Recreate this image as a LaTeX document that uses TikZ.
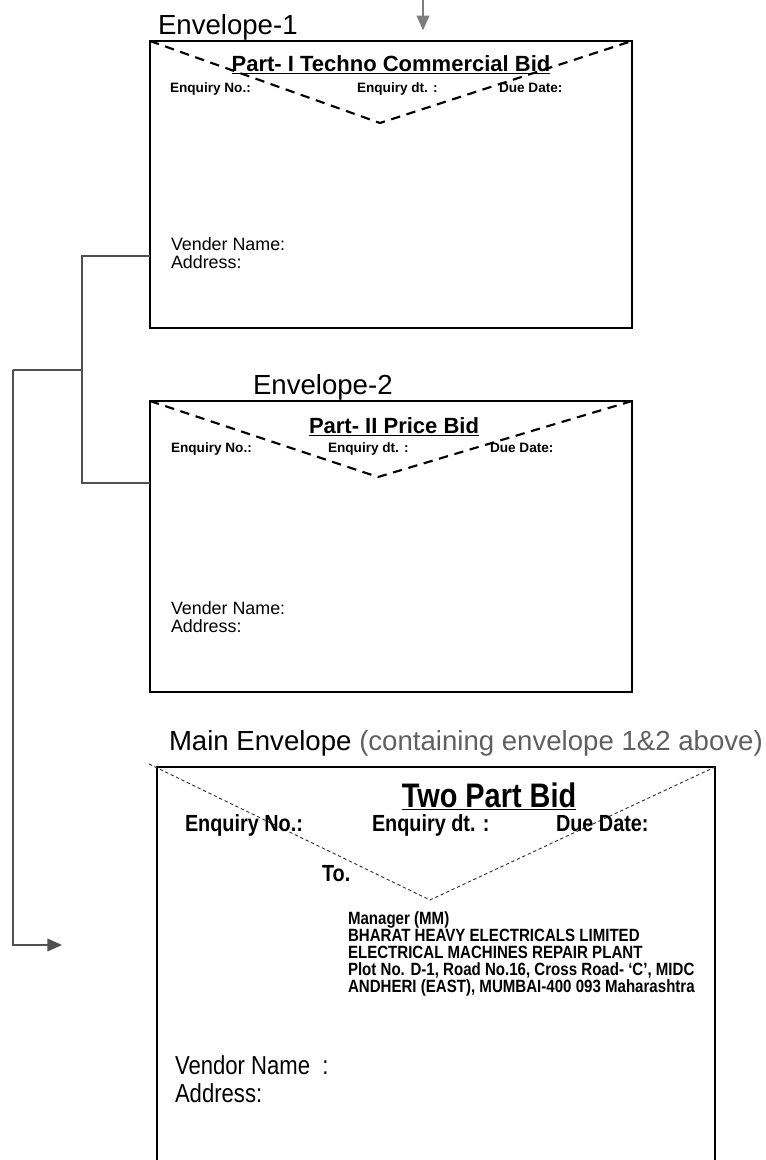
\documentclass[tikz,border=0pt]{standalone}
\usepackage{fontspec}
\setmainfont{Liberation Sans}
\newfontfamily\narrowfont[FakeStretch=0.85]{Liberation Sans}
\usetikzlibrary{positioning}
\usetikzlibrary{arrows.meta}
\definecolor{arrowgray}{RGB}{125,125,125}
\definecolor{wiregray}{RGB}{80,80,80}
\definecolor{notegray}{RGB}{95,95,95}
\tikzset{
    Envelope/.style = {rectangle, draw=black, line width=1.5pt, inner sep=0pt}
}
\tikzset{
    Flap/.style = {draw=black, line width=1.6pt, dash pattern=on 7pt off 5pt}
}
\tikzset{
    Wire/.style = {draw=wiregray, line width=1pt}
}
\tikzset{
    Arrow/.style = {draw=arrowgray, line width=1.2pt, -{Triangle[length=11pt,width=9.5pt]}}
}

\begin{document}
\begin{tikzpicture}[
    x=0.75pt, y=-0.75pt,
    every node/.style={inner sep=0pt, outer sep=0pt}
]
\tikzset{
    EnvLabel/.style = {anchor=base west, font=\fontsize{20.7}{24}\selectfont},
    PartTitle/.style = {anchor=base, font=\fontsize{16.5}{20}\selectfont\bfseries},
    Field/.style = {anchor=base west, font=\fontsize{10.2}{12}\selectfont\bfseries},
    Vender/.style = {anchor=base west, align=left, font=\fontsize{13.4}{13.5}\selectfont},
    MainTitle/.style = {anchor=base, font=\fontsize{25.5}{30}\selectfont\narrowfont\bfseries},
    MainField/.style = {anchor=base west, font=\fontsize{17.5}{20}\selectfont\narrowfont\bfseries},
    AddrBlock/.style = {anchor=north west, align=left, font=\fontsize{13.3}{12.75}\selectfont\narrowfont\bfseries},
    Vendor/.style = {anchor=base west, align=left, font=\fontsize{19.5}{20.3}\selectfont\narrowfont},
}
\useasboundingbox (0,0) rectangle (766,1160);
\clip (0,0) rectangle (766,1160);

% envelope 1
\node[Envelope, minimum width=361.5pt, minimum height=215.25pt] at (391,184.5) (env1) {};
\coordinate (vee1) at (380,123);
\draw[Flap] (env1.north west) -- (vee1) -- (env1.north east);
\node[EnvLabel] at (158,34) (lab1) {Envelope-1};
\node[PartTitle] at (391,71) (title1) {\underline{Part- I Techno Commercial Bid}};
\node[Field] at (170,92) (enq1) {Enquiry No.:};
\node[Field] at (357,92) (dt1) {Enquiry dt. :};
\node[Field] at (499,92) (due1) {Due Date:};
\node[Vender] at (171,268) (vend1) {Vender Name:\\Address:};

% envelope 2
\node[Envelope, minimum width=361.5pt, minimum height=218.25pt] at (391,546.5) (env2) {};
\coordinate (vee2) at (378,477);
\draw[Flap] (env2.north west) -- (vee2) -- (env2.north east);
\node[EnvLabel] at (253,394) (lab2) {Envelope-2};
\node[PartTitle] at (394,433) (title2) {\underline{Part- II Price Bid}};
\node[Field] at (171,452) (enq2) {Enquiry No.:};
\node[Field] at (328,452) (dt2) {Enquiry dt. :};
\node[Field] at (490,452) (due2) {Due Date:};
\node[Vender] at (171,632) (vend2) {Vender Name:\\Address:};

% main envelope
\node[EnvLabel] at (169,750) (labm) {Main Envelope \textcolor{notegray}{(containing envelope 1\&2 above)}};
\node[Envelope, minimum width=418.5pt, minimum height=306pt] at (436,971) (envm) {};
\coordinate (veem) at (430,900);
\draw[draw=black!80, line width=0.7pt, dash pattern=on 2.5pt off 2pt]
    ([shift={(-8,-3)}]envm.north west) -- (veem) -- (envm.north east);
\node[MainTitle] at (489,807) (titlem) {\underline{Two Part Bid}};
\node[MainField] at (185,831) (enqm) {Enquiry No.:};
\node[MainField] at (372,831) (dtm) {Enquiry dt. :};
\node[MainField] at (556,831) (duem) {Due Date:};
\node[MainField] at (322,881) (to) {To.};
\node[AddrBlock] at (348,912) (addr) {Manager (MM)\\
    BHARAT HEAVY ELECTRICALS LIMITED\\
    ELECTRICAL MACHINES REPAIR PLANT\\
    Plot No. D-1, Road No.16, Cross Road- ‘C’, MIDC\\
    ANDHERI (EAST), MUMBAI-400 093 Maharashtra};
\node[Vendor] at (175,1102) (vendm) {Vendor Name~~:\\Address:};

% connectors
\coordinate (src) at (423,0);
\coordinate (j1) at (82,256);
\coordinate (j2) at (82,483);
\coordinate (jm) at (82,370);
\coordinate (bend) at (13,370);
\coordinate (tip) at (62,945);
\draw[Arrow, shorten >=8pt] (src) -- (src |- env1.north);
\draw[Wire] (j1 -| env1.west) -- (j1) -- (j2) -- (j2 -| env2.west);
\draw[Wire] (jm) -- (bend);
\draw[Arrow, draw=wiregray] (bend) |- (tip);
\end{tikzpicture}
\end{document}
